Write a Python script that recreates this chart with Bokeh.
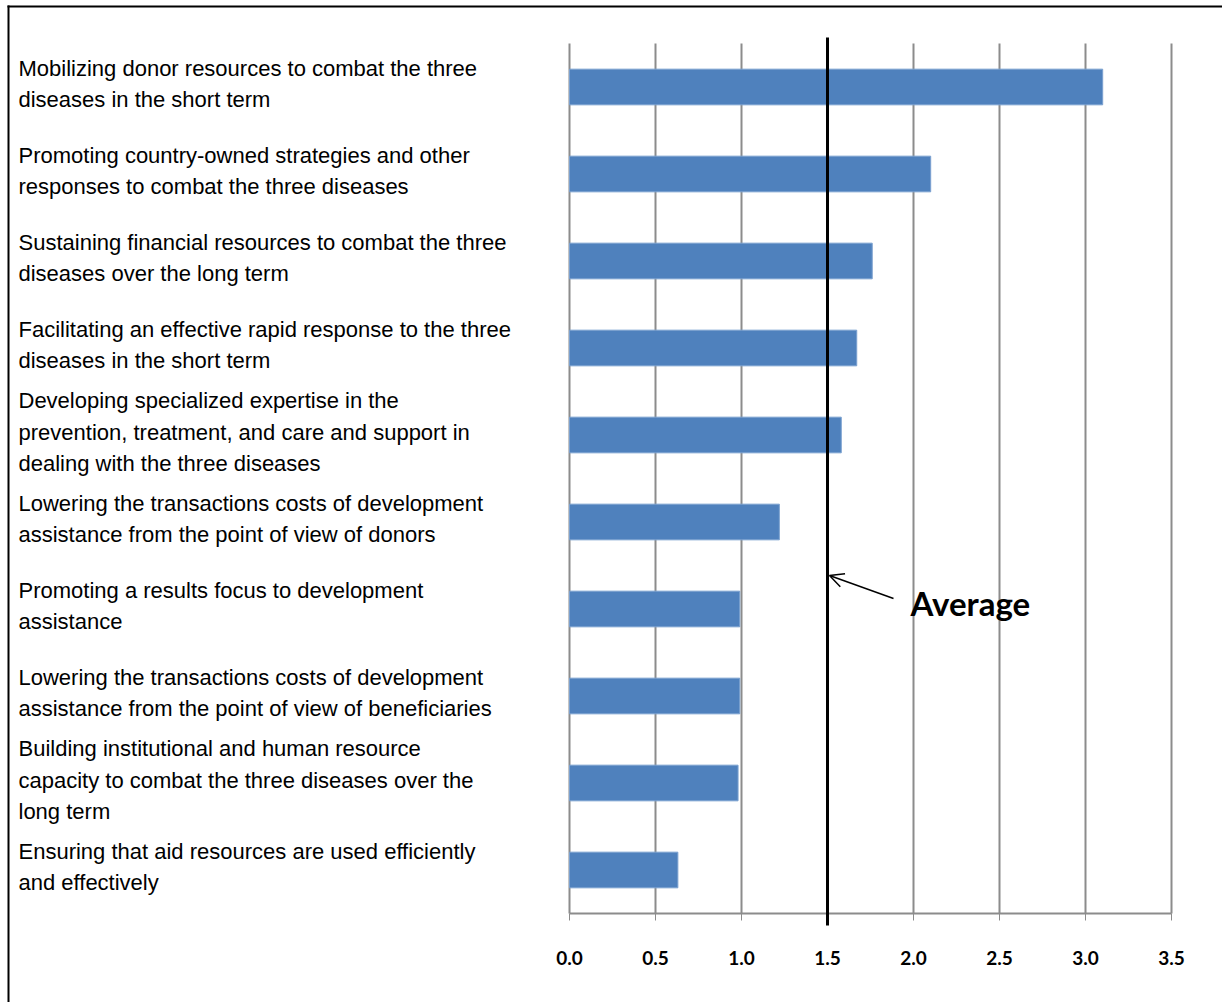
from bokeh.plotting import figure
from bokeh.models import Range1d, Label, Arrow, OpenHead, FixedTicker
from bokeh.embed import file_html
from bokeh.resources import INLINE

categories = [
    "Mobilizing donor resources to combat the three\ndiseases in the short term",
    "Promoting country-owned strategies and other\nresponses to combat the three diseases",
    "Sustaining financial resources to combat the three\ndiseases over the long term",
    "Facilitating an effective rapid response to the three\ndiseases in the short term",
    "Developing specialized expertise in the\nprevention, treatment, and care and support in\ndealing with the three diseases",
    "Lowering the transactions costs of development\nassistance from the point of view of donors",
    "Promoting a results focus to development\nassistance",
    "Lowering the transactions costs of development\nassistance from the point of view of beneficiaries",
    "Building institutional and human resource\ncapacity to combat the three diseases over the\nlong term",
    "Ensuring that aid resources are used efficiently\nand effectively",
]
scores = [3.10, 2.10, 1.76, 1.67, 1.58, 1.22, 0.99, 0.99, 0.98, 0.63]
average = 1.5
tick_values = [0.0, 0.5, 1.0, 1.5, 2.0, 2.5, 3.0, 3.5]
tick_labels = ["0.0", "0.5", "1.0", "1.5", "2.0", "2.5", "3.0", "3.5"]

W, H = 1222, 1002
# plot area in pixels
L, R, T, B = 569, 1171, 43, 913
n = len(categories)
XMAX = 3.5

xs = (R - L) / XMAX
ysc = (B - T) / n


def X(px):
    return (px - L) / xs


def Y(px):
    return (px - T) / ysc


p = figure(width=W, height=H, output_backend="svg", toolbar_location=None,
           x_range=Range1d(X(0), X(W)), y_range=Range1d(Y(H), Y(0)),
           min_border_left=0, min_border_right=0,
           min_border_top=0, min_border_bottom=0,
           y_axis_location=None)
p.outline_line_color = None
p.background_fill_color = "white"
p.border_fill_color = "white"
p.xgrid.visible = False
p.ygrid.visible = False

# vertical gridlines
p.segment(x0=tick_values, x1=tick_values, y0=[0] * len(tick_values),
          y1=[n] * len(tick_values), line_color="#8c8c8c", line_width=2)

ypos = [i + 0.5 for i in range(n)]
p.hbar(y=ypos, left=0, right=scores, height=0.41,
       fill_color="#4F81BD", line_color="#7aa0cf", line_width=1)

ax = p.xaxis[0]
ax.fixed_location = n
ax.bounds = (0, XMAX)
ax.ticker = FixedTicker(ticks=tick_values)
ax.major_label_overrides = {v: s for v, s in zip(tick_values, tick_labels)}
ax.axis_line_color = "#8c8c8c"
ax.axis_line_width = 2
ax.major_tick_line_color = "#8c8c8c"
ax.major_tick_line_width = 1
ax.major_tick_out = 7
ax.major_tick_in = 0
ax.minor_tick_line_color = None
ax.major_label_text_font = "Lato"
ax.major_label_text_font_style = "bold"
ax.major_label_text_font_size = "19px"
ax.major_label_text_color = "black"
ax.major_label_standoff = 30

# category labels
for i, c in enumerate(categories):
    p.add_layout(Label(x=X(18), y=ypos[i] + Y(T - 3), text=c, text_align="left",
                       text_baseline="middle", text_font="Liberation Sans",
                       text_font_size="22px", text_line_height=1.26,
                       text_color="black"))

# average line
p.add_layout(Arrow(end=None, x_start=average, x_end=average,
                   y_start=Y(37), y_end=Y(925),
                   line_color="black", line_width=3))

# pointer arrow and label
p.add_layout(Arrow(end=OpenHead(size=14, line_width=1.5, line_color="black"),
                   x_start=X(893), y_start=Y(598),
                   x_end=average + X(829) - X(827), y_end=Y(575),
                   line_color="black", line_width=1.5))
p.add_layout(Label(x=X(910), y=Y(602), text="Average", text_align="left",
                   text_baseline="middle", text_font="Lato",
                   text_font_style="bold", text_font_size="33px",
                   text_color="black"))

# outer frame (top and left edges)
p.add_layout(Arrow(end=None, x_start=X(7), x_end=X(1230), y_start=Y(6), y_end=Y(6),
                   line_color="black", line_width=2))
p.add_layout(Arrow(end=None, x_start=X(8), x_end=X(8), y_start=Y(5), y_end=Y(H + 5),
                   line_color="black", line_width=2))

open("out.html", "w").write(file_html(p, INLINE))
